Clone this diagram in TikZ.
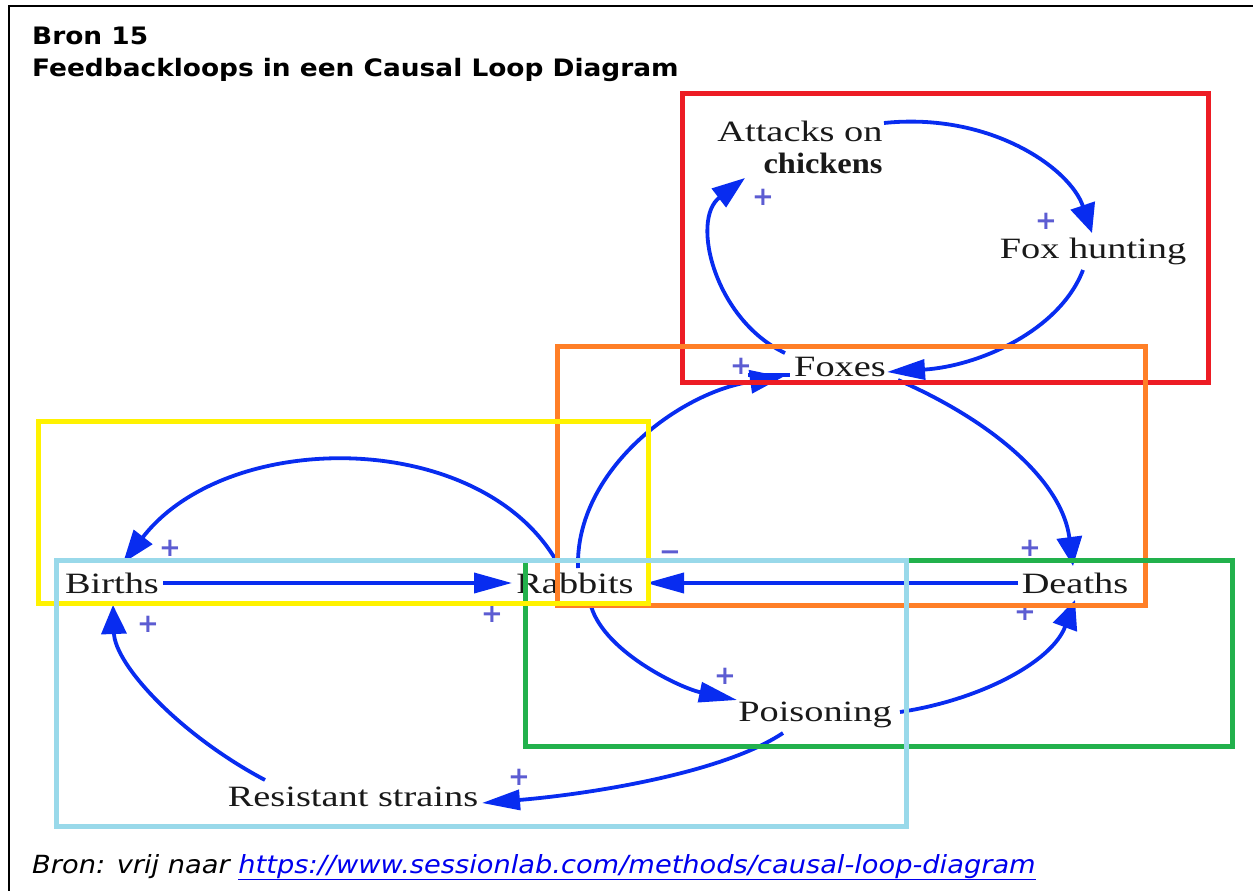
\documentclass[tikz,border=0pt]{standalone}
\usepackage{fontspec}
\usepackage{graphicx}
\setmainfont{Liberation Serif}
\newfontfamily\verdana{DejaVu Sans}[ItalicFont={DejaVu Sans Oblique},BoldFont={DejaVu Sans Bold}]
\usetikzlibrary{arrows.meta}
\definecolor{loopblue}{RGB}{8,44,240}
\definecolor{signblue}{RGB}{92,92,210}
\definecolor{boxred}{RGB}{237,28,36}
\definecolor{boxorange}{RGB}{255,127,39}
\definecolor{boxyellow}{RGB}{255,242,0}
\definecolor{boxgreen}{RGB}{34,177,76}
\definecolor{boxcyan}{RGB}{153,217,234}
\definecolor{linkblue}{RGB}{0,0,238}
\newcommand{\stretchx}[2]{\scalebox{#1}[1]{#2}}

\begin{document}
\begin{tikzpicture}[x=1pt,y=-1pt,
  var/.style={font=\fontsize{29.5}{32}\selectfont, inner sep=0pt, text=black!90},
  link/.style={draw=loopblue, line width=3.8pt},
  hhead/.style={-{Triangle[length=38pt,width=20pt]}},
  vhead/.style={-{Triangle[length=29pt,width=25pt]}},
  dhead/.style={-{Triangle[length=33pt,width=23pt]}},
  sign/.style={font=\verdana\bfseries\fontsize{26}{26}\selectfont, text=signblue, inner sep=0pt},
  loopbox/.style={line width=5pt},
  heading/.style={anchor=base west, font=\verdana\bfseries\fontsize{24}{28}\selectfont, inner sep=0pt}
]
\useasboundingbox (0,0) rectangle (1253,891);

% outer frame (left and top edges)
\draw[line width=2pt] (9,891) -- (9,6) -- (1253,6);

% heading
\node[heading] (title1) at (32,45) {\stretchx{1.1}{Bron 15}};
\node[heading] (title2) at (32,77) {\stretchx{1.1}{Feedbackloops in een Causal Loop Diagram}};

% variables
\node[var, align=right] (attacks) at (800,147) {\stretchx{1.3}{Attacks on}\\\stretchx{1.1}{\bfseries chickens}};
\node[var] (foxhunt) at (1093,251) {\stretchx{1.3}{Fox hunting}};
\node[var] (foxes)   at (840,367)  {\stretchx{1.3}{Foxes}};
\node[var] (births)  at (112,583)  {\stretchx{1.3}{Births}};
\node[var] (rabbits) at (575,583)  {\stretchx{1.3}{Rabbits}};
\node[var] (deaths)  at (1075,583) {\stretchx{1.3}{Deaths}};
\node[var] (poison)  at (815,715)  {\stretchx{1.3}{Poisoning}};
\node[var] (resist)  at (353,797)  {\stretchx{1.3}{Resistant strains}};

% causal links
\draw[link, vhead] ([shift={(84,-24)}]attacks.center) .. controls (990,112) and (1070,168) .. ([shift={(-1,-18)}]foxhunt.center);
\draw[link, hhead] ([shift={(-10,19)}]foxhunt.center) .. controls (1060,330) and (980,366) .. ([shift={(47,5)}]foxes.center);
\draw[link, dhead] ([shift={(-55,-14)}]foxes.center) .. controls (715,320) and (690,220) .. ([shift={(-55,31)}]attacks.center);
\draw[link, dhead] ([shift={(3,-15)}]rabbits.center) .. controls (575,470) and (680,392) .. ([shift={(-57,10)}]foxes.center);
\draw[loopblue, line width=4pt] ([shift={(-92,8)}]foxes.center) -- ([shift={(-50,8)}]foxes.center);
\draw[link, vhead] ([shift={(58,13)}]foxes.center) .. controls (990,420) and (1062,480) .. ([shift={(-2,-17)}]deaths.center);
\draw[link, hhead] ([shift={(-57,0)}]deaths.center) -- ([shift={(71,0)}]rabbits.center);
\draw[link, hhead] ([shift={(51,0)}]births.center) -- ([shift={(-63,0)}]rabbits.center);
\draw[link, dhead] ([shift={(-18,-21)}]rabbits.center) .. controls (480,428) and (227,428) .. ([shift={(11,-20)}]births.center);
\draw[link, vhead] ([shift={(-88,-17)}]resist.center) .. controls (180,735) and (115,665) .. ([shift={(1,22)}]births.center);
\draw[link, hhead] ([shift={(15,19)}]rabbits.center) .. controls (600,650) and (680,688) .. ([shift={(-78,-15)}]poison.center);
\draw[link, vhead] ([shift={(85,-3)}]poison.center) .. controls (980,700) and (1052,662) .. ([shift={(0,17)}]deaths.center);
\draw[link, hhead] ([shift={(-32,18)}]poison.center) .. controls (720,775) and (580,795) .. ([shift={(129,6)}]resist.center);

% polarity signs
\node[sign] (s1)  at (763,197) {+};
\node[sign] (s2)  at (1046,221) {+};
\node[sign] (s3)  at (741,366) {+};
\node[sign] (s4)  at (1030,548) {+};
\node[sign] (s5)  at (1025,612) {+};
\node[sign] (s6)  at (170,548) {+};
\node[sign] (s7)  at (148,624) {+};
\node[sign] (s8)  at (492,614) {+};
\node[sign] (s9)  at (725,676) {+};
\node[sign] (s10) at (519,777) {+};
\node[sign] (m1)  at (670,556) {−};

% highlighted loops
\draw[loopbox, boxred]    (682,93)  rectangle (1208,382);
\draw[loopbox, boxorange] (557,346) rectangle (1145,605);
\draw[loopbox, boxgreen]  (525,560) rectangle (1232,746);
\draw[loopbox, boxyellow] (38,421)  rectangle (648,603);
\draw[loopbox, boxcyan]   (56,560)  rectangle (906,826);

% source line
\node[anchor=base west, inner sep=0pt, font=\verdana\itshape\fontsize{25}{28}\selectfont] (source) at (32,873)
  {\stretchx{1.09}{Bron: vrij naar \textcolor{linkblue}{\underline{https://www.sessionlab.com/methods/causal-loop-diagram}}}};
\end{tikzpicture}
\end{document}
